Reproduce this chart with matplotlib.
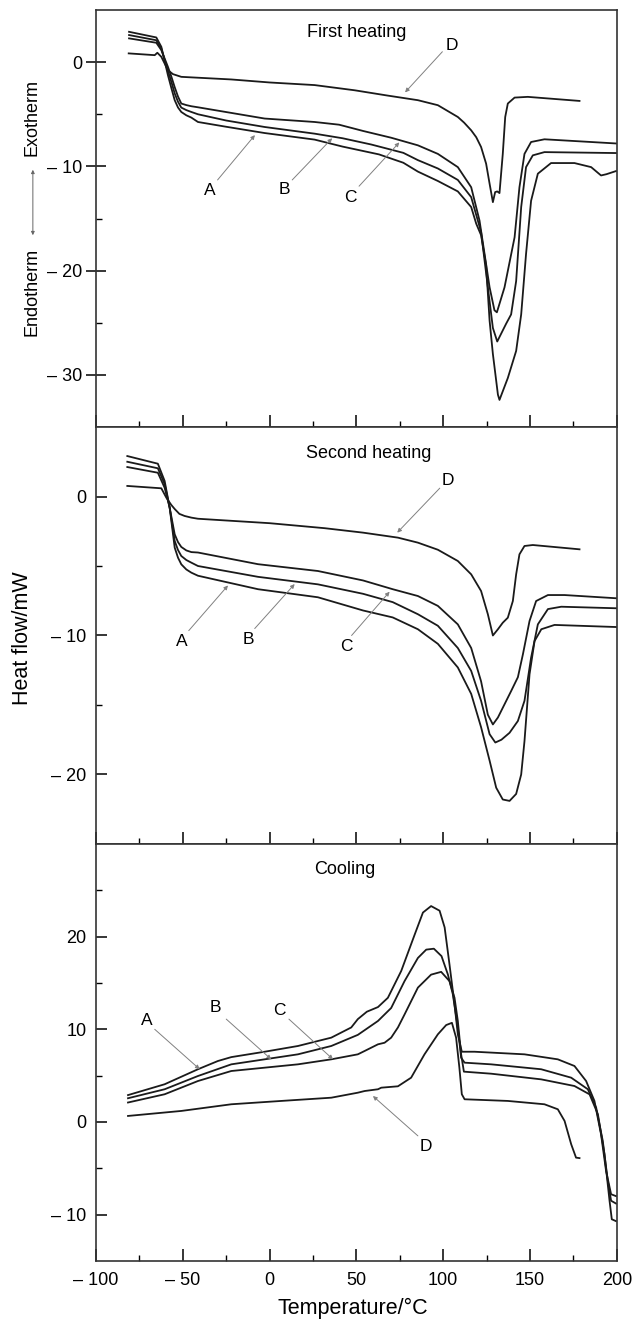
import matplotlib.pyplot as plt
from matplotlib.patches import FancyArrowPatch
from matplotlib.ticker import FixedLocator, MultipleLocator, FuncFormatter

plt.rcParams['font.family'] = ['Liberation Sans', 'DejaVu Sans']

# ---- first heating ----
h1_a_t = [-81, -65.3, -62.4, -58.6, -56.6, -54.7, -52.8, -50.9, -48, -45.1, -41.3, -25, -2.9, 25.9, 42, 63, 77, 85.4, 96.9, 108.4, 116.1, 119, 121.8, 124.7, 126.7, 128.6, 131.5, 132.4, 137.2, 142, 144.9, 147.7, 150.6, 154.5, 162.1, 175.6, 185.2, 190.9, 194, 199.5]
h1_a = [2.91, 2.37, 1.47, -1.25, -2.5, -3.65, -4.35, -4.78, -5.1, -5.32, -5.74, -6.2, -6.8, -7.43, -8.1, -8.85, -9.65, -10.5, -11.4, -12.4, -13.9, -15.5, -16.6, -19.5, -24.8, -28.0, -31.9, -32.4, -30.3, -27.7, -24.2, -18.4, -13.3, -10.7, -9.68, -9.68, -10.07, -10.87, -10.75, -10.45]
h1_b_t = [-81, -65.3, -62.4, -58.6, -56.6, -54.7, -52.8, -50.9, -48, -45.1, -41.3, -25, -2.9, 25.9, 42, 58.5, 77, 85.4, 96.9, 108.4, 116.1, 121.8, 125.7, 128.6, 131.1, 133.5, 136.2, 139.1, 142, 144.9, 147.7, 151.6, 158.3, 199.5]
h1_b = [2.6, 2.1, 1.3, -0.85, -1.9, -3.0, -3.8, -4.36, -4.6, -4.78, -5.0, -5.6, -6.22, -6.86, -7.3, -7.9, -8.7, -9.4, -10.2, -11.3, -12.95, -16.3, -21.6, -25.5, -26.8, -26.0, -25.1, -24.2, -21.0, -13.9, -10.07, -8.94, -8.63, -8.72]
h1_c_t = [-81, -65.3, -62.4, -58.6, -56.6, -54.7, -52.8, -50.9, -48, -45.1, -41.3, -2.9, 25.9, 40, 53.8, 70, 85.4, 96.9, 108.4, 116.1, 120.9, 123.8, 126.7, 129.5, 130.9, 135.3, 141.1, 143.9, 146.8, 150.6, 158.3, 199.5]
h1_c = [2.28, 1.86, 1.15, -0.45, -1.4, -2.4, -3.3, -3.97, -4.12, -4.23, -4.33, -5.41, -5.74, -6.0, -6.6, -7.25, -7.98, -8.8, -10.07, -12.0, -15.2, -18.4, -21.6, -23.8, -24.0, -21.6, -16.8, -12.0, -8.8, -7.66, -7.4, -7.8]
h1_d_t = [-81.2, -66.2, -64.7, -62.4, -58.6, -55.7, -50.9, -22.1, 0, 25.9, 49, 67.7, 85.4, 96.9, 108.4, 112, 116.1, 119, 121.8, 124.7, 126.7, 128.6, 129.9, 131.1, 132.4, 134.3, 135.7, 137.2, 141.1, 148.7, 178.5]
h1_d = [0.84, 0.67, 0.9, 0.51, -0.77, -1.15, -1.41, -1.66, -1.95, -2.2, -2.7, -3.2, -3.65, -4.13, -5.26, -5.8, -6.54, -7.2, -8.14, -9.74, -11.66, -13.43, -12.47, -12.4, -12.56, -8.8, -5.26, -3.97, -3.4, -3.33, -3.72]

# ---- second heating ----
h2_a_t = [-82, -64.4, -60.5, -57.6, -54.7, -52.8, -50.9, -48, -45.1, -41.3, -6.7, 27.8, 53.8, 70.9, 85.4, 96.9, 108.4, 116.1, 121.8, 126.7, 130.5, 134.3, 138.2, 142, 144.9, 146.8, 149.7, 152.6, 156.5, 164.1, 199.5]
h2_a = [2.91, 2.36, 1.12, -0.8, -3.68, -4.4, -4.88, -5.25, -5.48, -5.7, -6.67, -7.25, -8.2, -8.7, -9.55, -10.6, -12.3, -14.2, -16.6, -19.0, -20.95, -21.8, -21.9, -21.4, -20.0, -17.6, -12.8, -10.4, -9.55, -9.24, -9.39]
h2_b_t = [-82, -64.4, -60.5, -57.6, -54.7, -52.8, -50.9, -48, -45.1, -41.3, -6.7, 27.8, 53.8, 70.9, 85.4, 96.9, 108.4, 116.1, 121.8, 126.7, 130, 133.5, 138.2, 143, 146.8, 150.6, 154.5, 160.3, 168, 199.5]
h2_b = [2.5, 2.03, 0.9, -0.8, -3.2, -3.85, -4.28, -4.57, -4.76, -5.0, -5.78, -6.32, -7.0, -7.6, -8.47, -9.3, -10.9, -12.55, -14.7, -17.1, -17.7, -17.5, -17.0, -16.15, -14.7, -11.6, -9.2, -8.1, -7.93, -8.04]
h2_c_t = [-82, -64.4, -60.5, -57.6, -54.7, -52.8, -50.9, -48, -45.1, -41.3, -6.7, 27.8, 53.8, 70.9, 85.4, 96.9, 108.4, 116.1, 121.8, 125.7, 128.6, 131.5, 135.3, 139.1, 143, 145.9, 149.7, 153.5, 160.3, 169.9, 199.5]
h2_c = [2.12, 1.71, 0.63, -0.8, -2.72, -3.28, -3.63, -3.88, -4.0, -4.03, -4.87, -5.36, -6.04, -6.67, -7.16, -7.87, -9.2, -10.9, -13.3, -15.7, -16.4, -15.9, -14.95, -14.0, -13.0, -11.35, -8.96, -7.52, -7.09, -7.09, -7.32]
h2_d_t = [-82, -62.4, -59.5, -56.7, -54.7, -52, -49, -45.1, -41.3, 0, 31.7, 53.8, 73.9, 85.4, 96.9, 108.4, 116.1, 121.8, 125.7, 128.6, 131.5, 134.3, 137.2, 140.1, 142, 143.9, 146.8, 151.6, 178.5]
h2_d = [0.76, 0.59, -0.09, -0.6, -0.9, -1.25, -1.4, -1.52, -1.6, -1.92, -2.28, -2.6, -2.96, -3.32, -3.83, -4.64, -5.6, -6.8, -8.47, -10.0, -9.55, -9.08, -8.72, -7.52, -5.6, -4.16, -3.56, -3.49, -3.8]

# ---- cooling ----
c_a_t = [-81.6, -60.5, -41.3, -29.8, -22.1, -2.9, 16.3, 35.5, 47, 50.8, 56, 62.4, 68.1, 75.8, 83.5, 88.3, 93, 97.9, 100.8, 103.6, 106.5, 108.4, 110.7, 118, 146.8, 166, 175.6, 182.3, 187.1, 190.9, 193.8, 196.7, 199.5]
c_a = [2.9, 4.07, 5.69, 6.58, 7.0, 7.58, 8.2, 9.1, 10.2, 11.1, 11.9, 12.4, 13.4, 16.3, 20.2, 22.6, 23.3, 22.8, 21.0, 17.0, 12.7, 9.46, 7.58, 7.58, 7.3, 6.76, 6.04, 4.42, 2.27, -1.33, -5.29, -7.8, -8.0]
c_b_t = [-81.6, -60.5, -41.3, -22.1, -2.9, 16.3, 35.5, 50.8, 62.4, 70, 77.7, 85.4, 90.2, 94.6, 99, 102.7, 105.5, 108.4, 110.3, 112.3, 127.6, 156.4, 173.7, 183.3, 188.1, 191.9, 194.8, 196.7, 199.5]
c_b = [2.56, 3.53, 4.96, 6.22, 6.76, 7.3, 8.2, 9.4, 10.9, 12.3, 15.2, 17.7, 18.6, 18.7, 17.9, 15.9, 13.8, 10.2, 6.94, 6.4, 6.22, 5.69, 4.78, 3.53, 1.54, -2.05, -6.36, -8.5, -8.8]
c_c_t = [-81.6, -60.5, -41.3, -22.1, -2.9, 16.3, 35.5, 50.8, 54.7, 62.4, 66.2, 70, 73.9, 77.7, 85.4, 93, 98.8, 103.6, 106.5, 108.4, 110.3, 111.9, 127.6, 156.4, 175.6, 184.3, 189.1, 192.9, 195.8, 197.1, 199.5]
c_c = [2.1, 2.99, 4.42, 5.5, 5.86, 6.22, 6.76, 7.3, 7.66, 8.38, 8.55, 9.1, 10.2, 11.6, 14.5, 15.9, 16.2, 15.2, 13.4, 10.9, 7.3, 5.43, 5.21, 4.6, 3.88, 2.98, 0.83, -3.5, -8.5, -10.5, -10.7]
c_d_t = [-81.6, -50.9, -22.1, 6.7, 35.5, 50.8, 54.7, 62.4, 64.3, 73.9, 81.5, 89.2, 96.9, 101.7, 105, 107.4, 109.3, 110.7, 112.3, 137.2, 158.3, 166, 169.9, 173.7, 176.5, 178.5]
c_d = [0.65, 1.19, 1.91, 2.27, 2.62, 3.16, 3.34, 3.53, 3.7, 3.85, 4.78, 7.3, 9.46, 10.46, 10.7, 9.1, 5.86, 2.99, 2.45, 2.27, 1.91, 1.37, 0.11, -2.4, -3.85, -3.9]

titles = ['First heating', 'Second heating', 'Cooling']
ylims = [(-35, 5), (-25, 5), (-15, 30)]
y_major = [[0, -10, -20, -30], [0, -10, -20], [-10, 0, 10, 20]]
y_minor = [[-5, -15, -25], [-5, -15], [-5, 5, 15, 25]]


def dash_fmt(v, pos):
    v = int(round(v))
    return '– %d' % abs(v) if v < 0 else '%d' % v


fig, axes = plt.subplots(3, 1, figsize=(6.32, 13.19), sharex=True,
                         gridspec_kw={'hspace': 0})
fig.subplots_adjust(left=0.152, right=0.976, top=0.9924, bottom=0.044)

panels = [
    [(h1_a_t, h1_a), (h1_b_t, h1_b), (h1_c_t, h1_c), (h1_d_t, h1_d)],
    [(h2_a_t, h2_a), (h2_b_t, h2_b), (h2_c_t, h2_c), (h2_d_t, h2_d)],
    [(c_a_t, c_a), (c_b_t, c_b), (c_c_t, c_c), (c_d_t, c_d)],
]

for i, (ax, curves, yl) in enumerate(zip(axes, panels, ylims)):
    for t, y in curves:
        ax.plot(t, y, color='#1a1a1a', lw=1.3, solid_joinstyle='round')
    ax.set_ylim(*yl)
    ax.set_xlim(-100, 200)
    ax.xaxis.set_major_locator(MultipleLocator(50))
    ax.xaxis.set_minor_locator(MultipleLocator(25))
    ax.yaxis.set_major_locator(FixedLocator(y_major[i]))
    ax.yaxis.set_minor_locator(FixedLocator(y_minor[i]))
    ax.yaxis.set_major_formatter(FuncFormatter(dash_fmt))
    ax.xaxis.set_major_formatter(FuncFormatter(dash_fmt))
    ax.tick_params(axis='x', which='major', direction='in', length=9, width=1.1, labelsize=13, pad=8)
    ax.tick_params(axis='x', which='minor', direction='in', length=4, width=1.0)
    if i == 0:
        ax.tick_params(axis='y', which='major', direction='inout', length=14, width=1.1, labelsize=13, pad=3)
    else:
        ax.tick_params(axis='y', which='major', direction='in', length=8, width=1.1, labelsize=13, pad=7)
    ax.tick_params(axis='y', which='minor', direction='in', length=4, width=1.0)
    for s in ax.spines.values():
        s.set_linewidth(1.2)
        s.set_color('#333333')

arrow_kw = dict(arrowstyle='-|>', color='#808080', lw=0.7, mutation_scale=6, shrinkA=0, shrinkB=0)
lab_kw = dict(fontsize=12.5, ha='center', va='center')


def mark(ax, letter, lab, tail, tip):
    ax.text(lab[0], lab[1], letter, **lab_kw)
    ax.annotate('', xy=tip, xytext=tail, arrowprops=arrow_kw)


ax1, ax2, ax3 = axes
ax1.text(50, 2.8, titles[0], fontsize=13, ha='center', va='center')
mark(ax1, 'D', (105, 1.6), (99.5, 1.0), (78, -2.9))
mark(ax1, 'A', (-34.5, -12.3), (-30, -11.3), (-8.5, -7.0))
mark(ax1, 'B', (8.3, -12.2), (13, -11.3), (36, -7.3))
mark(ax1, 'C', (46.7, -13.0), (51.5, -11.9), (74.7, -7.7))

ax2.text(57, 3.1, titles[1], fontsize=13, ha='center', va='center')
mark(ax2, 'D', (102.4, 1.15), (98, 0.6), (73.5, -2.6))
mark(ax2, 'A', (-50.4, -10.4), (-46.6, -9.65), (-24, -6.4))
mark(ax2, 'B', (-12.1, -10.3), (-8.6, -9.5), (14.4, -6.3))
mark(ax2, 'C', (44, -10.8), (47.2, -10.0), (69.1, -6.85))

ax3.text(43, 27.2, titles[2], fontsize=13, ha='center', va='center')
mark(ax3, 'A', (-71, 11.0), (-66.2, 10.0), (-40.3, 5.69))
mark(ax3, 'B', (-31.3, 12.3), (-25, 11.1), (0.9, 6.76))
mark(ax3, 'C', (5.4, 12.0), (11.1, 11.1), (36.5, 6.76))
mark(ax3, 'D', (90.2, -2.6), (85.4, -1.5), (59.5, 2.8))

fig.text(0.559, 1 - 1308 / 1319, 'Temperature/°C', fontsize=15.5, ha='center', va='center')
fig.text(0.036, 0.516, 'Heat flow/mW', rotation=90, fontsize=15.5, ha='center', va='center')
fig.text(0.0514, 1 - 118 / 1319, 'Exotherm', rotation=90, fontsize=13, ha='center', va='center')
fig.text(0.0514, 1 - 292 / 1319, 'Endotherm', rotation=90, fontsize=13, ha='center', va='center')
fig.patches.append(FancyArrowPatch(
    (0.052, 1 - 167 / 1319), (0.052, 1 - 238 / 1319), transform=fig.transFigure,
    arrowstyle='<|-|>', mutation_scale=5, color='#666666', lw=0.7))

fig.savefig('out.png', dpi=100)
